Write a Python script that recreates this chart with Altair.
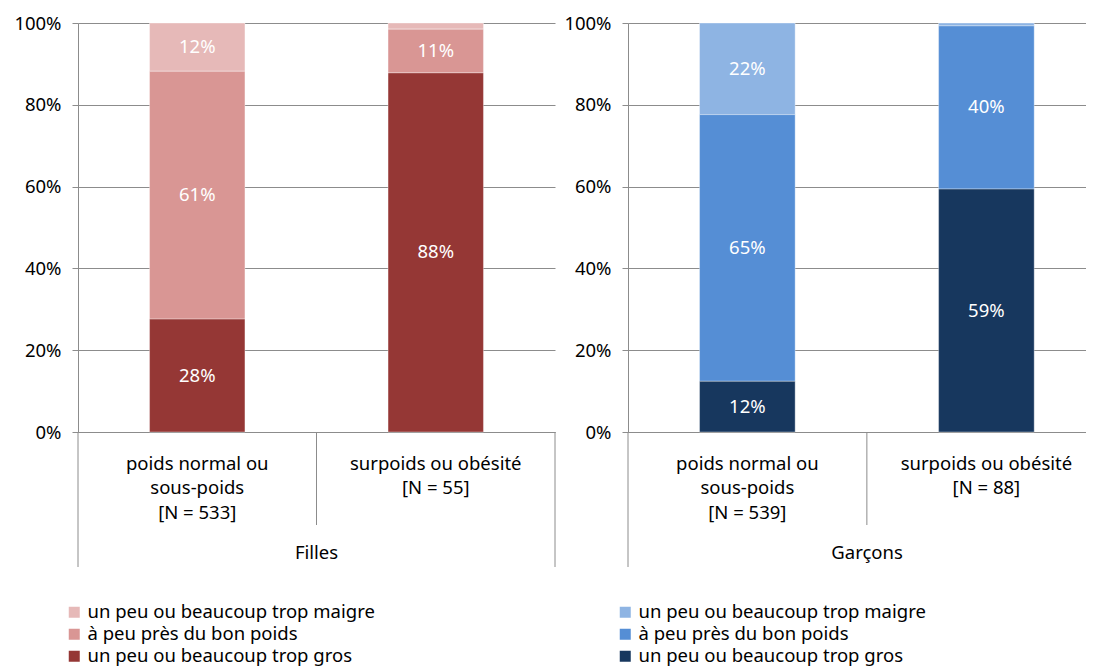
import altair as alt
import pandas as pd

FONT = "Noto Sans"
FS = 18.5
GRAY = "#8c8c8c"

groups = ["Filles", "Garçons"]
cat_labels_filles = ["poids normal ou|sous-poids|[N = 533]", "surpoids ou obésité|[N = 55]"]
cat_labels_garcons = ["poids normal ou|sous-poids|[N = 539]", "surpoids ou obésité|[N = 88]"]
perceptions = ["un peu ou beaucoup trop maigre", "à peu près du bon poids", "un peu ou beaucoup trop gros"]

filles_maigre = [11.8, 1.5]
filles_bon = [60.6, 10.7]
filles_gros = [27.6, 87.8]
garcons_maigre = [22.4, 0.7]
garcons_bon = [65.2, 39.9]
garcons_gros = [12.4, 59.4]

colors_filles = ["#E6B9B8", "#D99694", "#953735"]
colors_garcons = ["#8EB4E3", "#558ED5", "#17375E"]

y_ticks = [0, 20, 40, 60, 80, 100]

H = 409
PI = 0.6          # inner padding of the category band scale
SEP = 93          # length of the category separators below the axis
LOW = 135         # bottom of the group frame below the axis


def build_df(labels, maigre, bon, gros):
    rows = []
    for i, lab in enumerate(labels):
        vals = [maigre[i], bon[i], gros[i]]
        ranks = [2, 1, 0]
        cum = 0.0
        seg = {}
        for p, v, r in sorted(zip(perceptions, vals, ranks), key=lambda t: t[2]):
            seg[p] = (cum, cum + v)
            cum += v
        for p, v, r in zip(perceptions, vals, ranks):
            lo, hi = seg[p]
            rows.append({"cat": lab, "perception": p, "value": v, "rank": r,
                         "mid": (lo + hi) / 2,
                         "label": f"{round(v):d}%" if v >= 5 else ""})
    return pd.DataFrame(rows)


def panel(df, labels, colors, group, W, po, align, legend_x, right_border):
    step = W / (2 - PI + 2 * po)
    xenc = alt.X("cat:N", sort=labels,
                 scale=alt.Scale(paddingInner=PI, paddingOuter=po, align=align),
                 axis=alt.Axis(title=None, labelAngle=0, labelExpr="split(datum.label, '|')",
                               domainColor=GRAY, labelFontSize=FS, labelLineHeight=24.5,
                               labelColor="black", labelFont=FONT, labelBaseline="top",
                               ticks=False, labelPadding=22))
    bars = alt.Chart(df).mark_bar(stroke="white", strokeWidth=0.6, strokeOpacity=0.6).encode(
        x=xenc,
        y=alt.Y("value:Q", stack="zero", scale=alt.Scale(domain=[0, 100], nice=False),
                axis=alt.Axis(values=y_ticks, labelExpr="datum.value + '%'", title=None,
                              grid=True, gridColor=GRAY, gridWidth=1, tickSize=6,
                              tickColor=GRAY, domainColor=GRAY, labelPadding=11,
                              labelFontSize=FS, labelFont=FONT, labelColor="black")),
        color=alt.Color("perception:N", scale=alt.Scale(domain=perceptions, range=colors),
                        legend=alt.Legend(title=None, orient="none", legendX=legend_x, legendY=580,
                                          symbolType="square", symbolSize=121,
                                          symbolStrokeWidth=0, labelFontSize=FS,
                                          labelFont=FONT, labelColor="black",
                                          rowPadding=3, labelOffset=4, labelLimit=400)),
        order=alt.Order("rank:Q"),
    )
    text = alt.Chart(df).transform_filter("datum.label != ''").mark_text(
        color="white", fontSize=FS, font=FONT, baseline="middle").encode(
        x=alt.X("cat:N", sort=labels),
        y=alt.Y("mid:Q"),
        text="label:N",
    )
    one = pd.DataFrame({"g": [group]})
    layers = [bars, text]
    # left frame line below the axis
    layers.append(alt.Chart(one).mark_rule(color=GRAY, strokeWidth=1).encode(
        x=alt.value(0), y=alt.value(H), y2=alt.value(H + LOW)))
    if right_border:
        layers.append(alt.Chart(one).mark_rule(color=GRAY, strokeWidth=1).encode(
            x=alt.value(W), y=alt.value(H), y2=alt.value(H + LOW)))
    # separator between the two categories
    sep = df[df["cat"] == labels[1]].head(1)
    layers.append(alt.Chart(sep).mark_rule(color=GRAY, strokeWidth=1).encode(
        x=alt.X("cat:N", sort=labels, bandPosition=0),
        xOffset=alt.value(-PI * step / 2),
        y=alt.value(H), y2=alt.value(H + SEP)))
    layers.append(alt.Chart(one).mark_text(fontSize=FS, font=FONT, color="black",
                                           baseline="middle").encode(
        x=alt.value(step), y=alt.value(H + 121), text="g:N"))
    return alt.layer(*layers).properties(width=W, height=H)


df_f = build_df(cat_labels_filles, filles_maigre, filles_bon, filles_gros)
df_g = build_df(cat_labels_garcons, garcons_maigre, garcons_bon, garcons_gros)

left = panel(df_f, cat_labels_filles, colors_filles, groups[0], 477, 0.3, 0.5, -13, True)
right = panel(df_g, cat_labels_garcons, colors_garcons, groups[1], 458, 0.258, 0.58, -12, False)

chart = alt.hconcat(left, right, spacing=7).resolve_scale(
    color="independent", x="independent", y="independent").configure_view(
    stroke=None).properties(padding={"top": 6, "left": 5, "right": 0, "bottom": 0})

chart.save("out.html", embed_options={"renderer": "svg", "actions": False})
